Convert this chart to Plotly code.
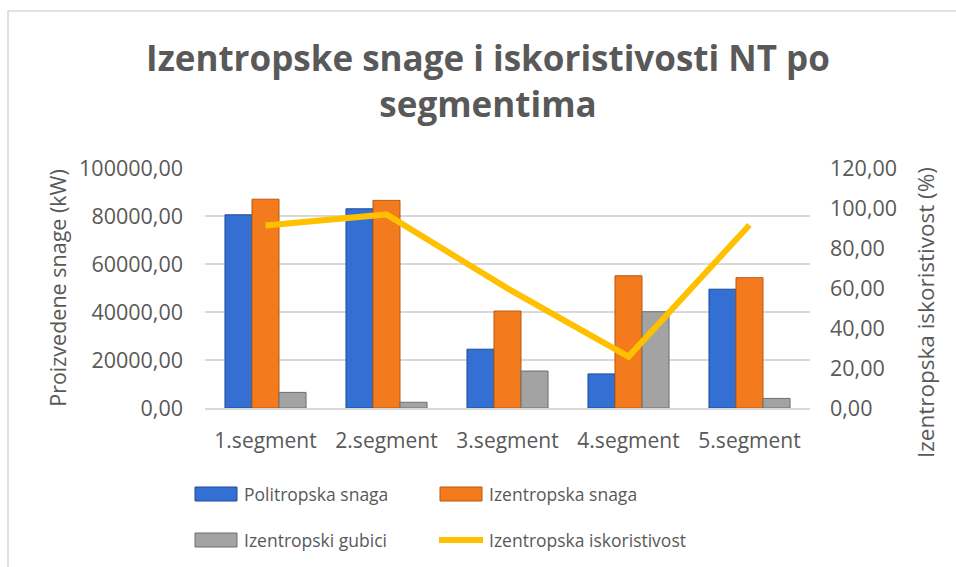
import plotly.graph_objects as go

categories = ["1.segment", "2.segment", "3.segment", "4.segment", "5.segment"]
politropska_snaga = [80500, 83000, 24500, 14200, 49500]
izentropska_snaga = [87000, 86500, 40400, 55100, 54300]
izentropski_gubici = [6500, 2400, 15400, 40100, 4000]
izentropska_iskoristivost = [91.2, 96.8, 59.8, 25.7, 91.5]

series_names = ["Politropska snaga", "Izentropska snaga", "Izentropski gubici", "Izentropska iskoristivost"]
left_title = "Proizvedene snage (kW)"
right_title = "Izentropska iskoristivost (%)"
left_ticks = [0, 20000, 40000, 60000, 80000, 100000]
right_ticks = [0, 20, 40, 60, 80, 100, 120]

W, H = 956, 567
ML, MR, MT, MB = 205, 146, 168, 159
PW, PH = W - ML - MR, H - MT - MB
FONT = "Open Sans"
TXT = "#595959"

blue, orange, gray, gold = "#3470D4", "#F47A1E", "#A3A3A3", "#FFC000"
blue_e, orange_e, gray_e = "#1E4C99", "#B85A10", "#6E6E6E"


def px(x):
    return (x - ML) / PW


def py(y):
    return (H - MB - y) / PH


fig = go.Figure()
fig.add_trace(go.Bar(x=categories, y=politropska_snaga, name=series_names[0],
                     marker=dict(color=blue, line=dict(color=blue_e, width=1))))
fig.add_trace(go.Bar(x=categories, y=izentropska_snaga, name=series_names[1],
                     marker=dict(color=orange, line=dict(color=orange_e, width=1))))
fig.add_trace(go.Bar(x=categories, y=izentropski_gubici, name=series_names[2],
                     marker=dict(color=gray, line=dict(color=gray_e, width=1))))
fig.add_trace(go.Scatter(x=categories, y=izentropska_iskoristivost, name=series_names[3],
                         mode="lines", yaxis="y2", line=dict(color=gold, width=6)))

shapes = []
annotations = []
# chart border (only top/left visible in the crop)
shapes.append(dict(type="rect", xref="paper", yref="paper", x0=px(8), x1=px(1000),
                   y0=py(11), y1=py(620), line=dict(color="#D9D9D9", width=1.5),
                   fillcolor="rgba(0,0,0,0)", layer="below"))

# custom legend
leg = [
    (195, 237, 242, 494, blue, blue_e, "bar"),
    (440, 482, 487, 494, orange, orange_e, "bar"),
    (195, 237, 242, 540, gray, gray_e, "bar"),
    (439, 483, 487, 540, gold, gold, "line"),
]
for (x0, x1, tx, cy, c, e, kind), name in zip(leg, series_names):
    if kind == "bar":
        shapes.append(dict(type="rect", xref="paper", yref="paper", x0=px(x0), x1=px(x1),
                           y0=py(cy - 7), y1=py(cy + 7), fillcolor=c,
                           line=dict(color=e, width=1)))
    else:
        shapes.append(dict(type="line", xref="paper", yref="paper", x0=px(x0), x1=px(x1),
                           y0=py(cy), y1=py(cy), line=dict(color=c, width=6)))
    annotations.append(dict(text=name, xref="paper", yref="paper", x=px(tx), y=py(cy),
                            xanchor="left", yanchor="middle", showarrow=False,
                            font=dict(family=FONT, size=17.5, color=TXT)))

# right axis title (placed as in the reference)
annotations.append(dict(text=right_title, xref="paper", yref="paper", x=px(925), y=py(313),
                        xanchor="center", yanchor="middle", textangle=-90, showarrow=False,
                        font=dict(family=FONT, size=22.5, color=TXT)))

fig.update_layout(
    width=W, height=H,
    margin=dict(l=ML, r=MR, t=MT, b=MB),
    paper_bgcolor="white", plot_bgcolor="white",
    separators=",.",
    showlegend=False,
    barmode="group", bargap=0.33, bargroupgap=0,
    title=dict(text="<b>Izentropske snage i iskoristivosti NT po<br>segmentima</b>",
               x=488 / W, xanchor="center", xref="container",
               y=1 - 71 / H, yanchor="top", yref="container",
               font=dict(family=FONT, size=35, color=TXT)),
    font=dict(family=FONT, color=TXT),
    xaxis=dict(showgrid=False, showline=True, linecolor="#D9D9D9", linewidth=2,
               tickfont=dict(size=21, color=TXT), ticks="", ticklabelstandoff=13),
    yaxis=dict(range=[0, 100000], tickvals=left_ticks, tickformat=".2f",
               showgrid=True, gridcolor="#D9D9D9", gridwidth=2, zeroline=False,
               tickfont=dict(size=21.5, color=TXT), ticklabelstandoff=21,
               title=dict(text=left_title, font=dict(size=21.5, color=TXT), standoff=6)),
    yaxis2=dict(range=[0, 120], tickvals=right_ticks, tickformat=".2f", overlaying="y",
                side="right", showgrid=False, zeroline=False,
                tickfont=dict(size=21.5, color=TXT), ticklabelstandoff=19),
    shapes=shapes,
    annotations=annotations,
)

fig.write_html("out.html", post_script="document.body.style.margin='0';",
               config={"displayModeBar": False})
